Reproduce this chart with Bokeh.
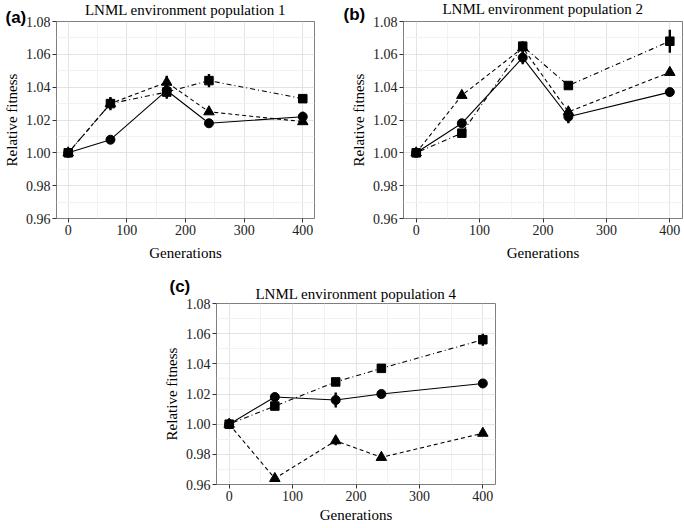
from bokeh.plotting import figure
from bokeh.layouts import column, row
from bokeh.models import Range1d, FixedTicker, PrintfTickFormatter, Title, Spacer
from bokeh.embed import file_html
from bokeh.resources import INLINE

generations = [0, 72, 168, 240, 400]
x_ticks = [0, 100, 200, 300, 400]
x_minor = [50, 150, 250, 350]
y_ticks = [0.96, 0.98, 1.00, 1.02, 1.04, 1.06, 1.08]
y_minor = [0.97, 0.99, 1.01, 1.03, 1.05, 1.07]

titles = ["LNML environment population 1", "LNML environment population 2", "LNML environment population 4"]
letters = ["(a)", "(b)", "(c)"]

# panel (a)
a_circle = [1.000, 1.008, 1.038, 1.018, 1.022]
a_circle_err = [0.0, 0.001, 0.004, 0.001, 0.003]
a_triangle = [1.000, 1.030, 1.043, 1.025, 1.019]
a_triangle_err = [0.0, 0.003, 0.004, 0.001, 0.001]
a_square = [1.000, 1.030, 1.037, 1.044, 1.033]
a_square_err = [0.0, 0.004, 0.004, 0.004, 0.001]

# panel (b)
b_circle = [1.000, 1.018, 1.058, 1.022, 1.037]
b_circle_err = [0.0, 0.002, 0.004, 0.004, 0.001]
b_triangle = [1.000, 1.035, 1.064, 1.025, 1.049]
b_triangle_err = [0.0, 0.001, 0.003, 0.002, 0.001]
b_square = [1.000, 1.012, 1.065, 1.041, 1.068]
b_square_err = [0.0, 0.001, 0.003, 0.001, 0.007]

# panel (c)
c_circle = [1.000, 1.018, 1.016, 1.020, 1.027]
c_circle_err = [0.0, 0.002, 0.005, 0.002, 0.001]
c_triangle = [1.000, 0.964, 0.989, 0.978, 0.994]
c_triangle_err = [0.0, 0.001, 0.003, 0.001, 0.001]
c_square = [1.000, 1.012, 1.028, 1.037, 1.056]
c_square_err = [0.0, 0.001, 0.001, 0.002, 0.004]

SERIF = "Liberation Serif"


def title_obj(text, kind, valign, standoff, offset=0):
    if kind == "letter":
        return Title(text=text, align="left", offset=offset, vertical_align=valign, standoff=standoff,
                     text_font="Liberation Sans", text_font_style="bold", text_font_size="17px",
                     text_color="black")
    return Title(text=text, align="center", vertical_align=valign, standoff=standoff,
                 text_font=SERIF, text_font_style="normal", text_font_size="15px", text_color="black")


def make_panel(title, letter, series, width, height, bl, br, bt, bb, xlab_standoff, stack):
    p = figure(width=width, height=height, output_backend="svg", toolbar_location=None,
               x_range=Range1d(-20, 420), y_range=Range1d(0.96, 1.08),
               min_border_left=bl, min_border_right=br, min_border_top=bt, min_border_bottom=bb)
    p.title.visible = False
    for kind, valign, standoff, offset in stack:
        txt = letter if kind == "letter" else title
        p.add_layout(title_obj(txt, kind, valign, standoff, offset), "above")

    p.background_fill_color = "white"
    p.border_fill_color = "white"
    p.outline_line_color = "#7f7f7f"
    p.outline_line_width = 1

    p.xaxis.ticker = FixedTicker(ticks=x_ticks, minor_ticks=x_minor)
    p.yaxis.ticker = FixedTicker(ticks=y_ticks, minor_ticks=y_minor)
    p.yaxis.formatter = PrintfTickFormatter(format="%.2f")
    for ax in (p.xaxis[0], p.yaxis[0]):
        ax.axis_line_color = None
        ax.major_tick_line_color = "#333333"
        ax.major_tick_out = 4
        ax.major_tick_in = 0
        ax.minor_tick_line_color = None
        ax.major_label_text_font = SERIF
        ax.major_label_text_font_size = "14px"
        ax.major_label_text_color = "#222222"
        ax.major_label_standoff = 2
        ax.axis_label_text_font = SERIF
        ax.axis_label_text_font_size = "15px"
        ax.axis_label_text_font_style = "normal"
        ax.axis_label_text_color = "black"
        ax.axis_label_standoff = 3
    p.xaxis.axis_label = "Generations"
    p.yaxis.axis_label = "Relative fitness"
    p.xaxis[0].axis_label_standoff = xlab_standoff

    for g in (p.xgrid, p.ygrid):
        g.grid_line_color = "#e3e3e3"
        g.grid_line_width = 1
        g.minor_grid_line_color = "#f2f2f2"
        g.minor_grid_line_width = 1

    dashes = {"circle": "solid", "triangle": "4 3", "square": "1 3 5 3"}
    sizes = {"circle": 9, "triangle": 10.5, "square": 8.5}
    for marker, vals, errs in series:
        p.line(generations, vals, line_color="black", line_width=1.1, line_dash=dashes[marker])
    for marker, vals, errs in series:
        lo = [v - e for v, e in zip(vals, errs)]
        hi = [v + e for v, e in zip(vals, errs)]
        p.segment(x0=generations, y0=lo, x1=generations, y1=hi, line_color="black", line_width=2.4)
        p.scatter(generations, vals, marker=marker, size=sizes[marker],
                  fill_color="black", line_color="black")
    return p


pa = make_panel(titles[0], letters[0],
                [("circle", a_circle, a_circle_err), ("triangle", a_triangle, a_triangle_err),
                 ("square", a_square, a_square_err)],
                338, 266, 53, 24, 21, 46, 7,
                [("letter", "top", -15, -51), ("title", "bottom", -4.5, 0)])
pb = make_panel(titles[1], letters[1],
                [("circle", b_circle, b_circle_err), ("triangle", b_triangle, b_triangle_err),
                 ("square", b_square, b_square_err)],
                345, 266, 65, 1, 19, 48, 7,
                [("letter", "top", -9, -60), ("title", "bottom", -15, 0)])
pc = make_panel(titles[2], letters[2],
                [("circle", c_circle, c_circle_err), ("triangle", c_triangle, c_triangle_err),
                 ("square", c_square, c_square_err)],
                344, 261, 52, 9, 37, 43, 3,
                [("title", "top", 0, 0), ("letter", "bottom", -20, -47)])

layout = column(row(pa, pb), row(Spacer(width=160, height=261), pc))

open("out.html", "w").write(file_html(layout, INLINE))
